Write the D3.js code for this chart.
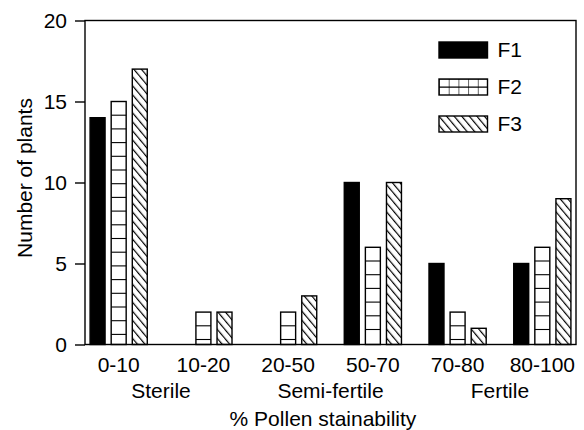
<!DOCTYPE html>
<html>
<head>
<meta charset="utf-8">
<script src="https://cdn.jsdelivr.net/npm/d3@7"></script>
<style>
    body { margin: 0; background: #fff; }
    text { font-family: "Liberation Sans", Arial, Helvetica, sans-serif; fill: #000; }
</style>
</head>
<body>
<svg id="chart" width="584" height="430"></svg>
<script>
(() => {

    // data
    const categories = ["0-10", "10-20", "20-50", "50-70", "70-80", "80-100"];
    const series = ["F1", "F2", "F3"];
    const f1 = [14, 0, 0, 10, 5, 5];
    const f2 = [15, 2, 2, 6, 2, 6];
    const f3 = [17, 2, 3, 10, 1, 9];
    const yTicks = [0, 5, 10, 15, 20];
    const groups = [
        {label: "Sterile", from: "0-10", to: "10-20"},
        {label: "Semi-fertile", from: "20-50", to: "50-70"},
        {label: "Fertile", from: "70-80", to: "80-100"},
    ];

    const values = {F1: f1, F2: f2, F3: f3};
    const rows = categories.map((c, i) => ({
        cat: c,
        bars: series.map(s => ({key: s, value: values[s][i]}))
    }));

    const svg = d3.select("svg#chart");
    const left = 85, right = 576, top = 20.5, bottom = 344.5;

    const x0 = d3.scaleBand()
        .domain(categories)
        .range([left, right])
        .paddingInner(0.325)
        .paddingOuter(0.06);
    const x1 = d3.scaleBand()
        .domain(series)
        .range([0, x0.bandwidth()])
        .paddingInner(0.29)
        .paddingOuter(0);
    const y = d3.scaleLinear()
        .domain([0, 20])
        .range([bottom, top]);

    // patterns
    const defs = svg.append("defs");
    defs.append("pattern")
        .attr("id", "hatch")
        .attr("patternUnits", "userSpaceOnUse")
        .attr("width", 5.8)
        .attr("height", 10)
        .attr("patternTransform", "rotate(-40)")
        .append("line")
        .attr("x1", 0.6).attr("y1", 0)
        .attr("x2", 0.6).attr("y2", 10)
        .attr("stroke", "#000")
        .attr("stroke-width", 1.2);

    const legX = 439, legY0 = 42, legStep = 37, legW = 48.5, legH = 16;

    const grid = defs.append("pattern")
        .attr("id", "grid")
        .attr("patternUnits", "userSpaceOnUse")
        .attr("x", legX)
        .attr("y", legY0 + legStep)
        .attr("width", legW / 5)
        .attr("height", legH / 2);
    grid.append("rect")
        .attr("width", legW / 5).attr("height", legH / 2)
        .attr("fill", "#fff");
    grid.append("path")
        .attr("d", `M0,0V${legH / 2}M0,0H${legW / 5}`)
        .attr("stroke", "#000")
        .attr("stroke-width", 1.2);

    const fillFor = k => k === "F1" ? "#000" : (k === "F3" ? "url(#hatch)" : "#fff");

    // bars
    const barG = svg.append("g")
        .selectAll("g")
        .data(rows)
        .enter()
        .append("g")
        .attr("transform", d => `translate(${x0(d.cat)},0)`);

    const bars = barG.selectAll("g.bar")
        .data(d => d.bars.filter(b => b.value > 0))
        .enter()
        .append("g")
        .attr("class", "bar");

    bars.filter(d => d.key === "F3")
        .append("rect")
        .attr("x", d => x1(d.key))
        .attr("y", d => y(d.value))
        .attr("width", x1.bandwidth())
        .attr("height", d => y(0) - y(d.value))
        .attr("fill", "#fff");

    bars.append("rect")
        .attr("x", d => x1(d.key))
        .attr("y", d => y(d.value))
        .attr("width", x1.bandwidth())
        .attr("height", d => y(0) - y(d.value))
        .attr("fill", d => fillFor(d.key));

    // horizontal rules inside the F2 bars, measured from the bar top
    const ruleStep = 13.7;
    bars.filter(d => d.key === "F2")
        .selectAll("line")
        .data(d => d3.range(ruleStep, y(0) - y(d.value) - 2, ruleStep)
            .map(off => ({key: d.key, yy: y(d.value) + off})))
        .enter()
        .append("line")
        .attr("x1", d => x1(d.key))
        .attr("x2", d => x1(d.key) + x1.bandwidth())
        .attr("y1", d => d.yy)
        .attr("y2", d => d.yy)
        .attr("stroke", "#000")
        .attr("stroke-width", 1.1);

    bars.append("rect")
        .attr("x", d => x1(d.key))
        .attr("y", d => y(d.value))
        .attr("width", x1.bandwidth())
        .attr("height", d => y(0) - y(d.value))
        .attr("fill", "none")
        .attr("stroke", "#000")
        .attr("stroke-width", 1.4);

    // frame
    svg.append("rect")
        .attr("x", left)
        .attr("y", top)
        .attr("width", right - left)
        .attr("height", bottom - top)
        .attr("fill", "none")
        .attr("stroke", "#000")
        .attr("stroke-width", 1.4);

    // y axis
    const yAxis = svg.append("g")
        .attr("transform", `translate(${left},0)`)
        .call(d3.axisLeft(y).tickValues(yTicks).tickSize(10).tickPadding(8));
    yAxis.select(".domain").remove();
    yAxis.selectAll(".tick line").attr("stroke-width", 1.4);
    yAxis.selectAll("text")
        .style("font-family", "\"Liberation Sans\", Arial, sans-serif")
        .style("font-size", "21px");

    // x category labels
    svg.append("g")
        .selectAll("text")
        .data(categories)
        .enter()
        .append("text")
        .attr("x", d => x0(d) + x0.bandwidth() / 2)
        .attr("y", 371.5)
        .attr("text-anchor", "middle")
        .style("font-size", "21px")
        .text(d => d);

    svg.append("g")
        .selectAll("text")
        .data(groups)
        .enter()
        .append("text")
        .attr("x", d => (x0(d.from) + x0(d.to) + x0.bandwidth()) / 2)
        .attr("y", 397.5)
        .attr("text-anchor", "middle")
        .style("font-size", "21px")
        .text(d => d.label);

    // titles
    svg.append("text")
        .attr("x", 323)
        .attr("y", 426)
        .attr("text-anchor", "middle")
        .style("font-size", "21px")
        .text("% Pollen stainability");

    svg.append("text")
        .attr("transform", "translate(32,178) rotate(-90)")
        .attr("text-anchor", "middle")
        .style("font-size", "21px")
        .text("Number of plants");

    // legend
    const leg = svg.append("g")
        .selectAll("g")
        .data(series)
        .enter()
        .append("g");

    leg.filter(d => d === "F3")
        .append("rect")
        .attr("x", legX)
        .attr("y", (d, i) => legY0 + 2 * legStep)
        .attr("width", legW)
        .attr("height", legH)
        .attr("fill", "#fff");

    leg.append("rect")
        .attr("x", legX)
        .attr("y", (d, i) => legY0 + series.indexOf(d) * legStep)
        .attr("width", legW)
        .attr("height", legH)
        .attr("fill", d => d === "F2" ? "url(#grid)" : fillFor(d))
        .attr("stroke", "#000")
        .attr("stroke-width", 1.4);

    leg.filter(d => d === "F2")
        .append("line")
        .attr("x1", legX)
        .attr("x2", legX + legW)
        .attr("y1", legY0 + legStep + legH / 2)
        .attr("y2", legY0 + legStep + legH / 2)
        .attr("stroke", "#000")
        .attr("stroke-width", 1.2);

    leg.append("text")
        .attr("x", legX + legW + 10)
        .attr("y", d => legY0 + series.indexOf(d) * legStep + legH - 1)
        .style("font-size", "21px")
        .text(d => d);

})();
</script>
</body>
</html>
